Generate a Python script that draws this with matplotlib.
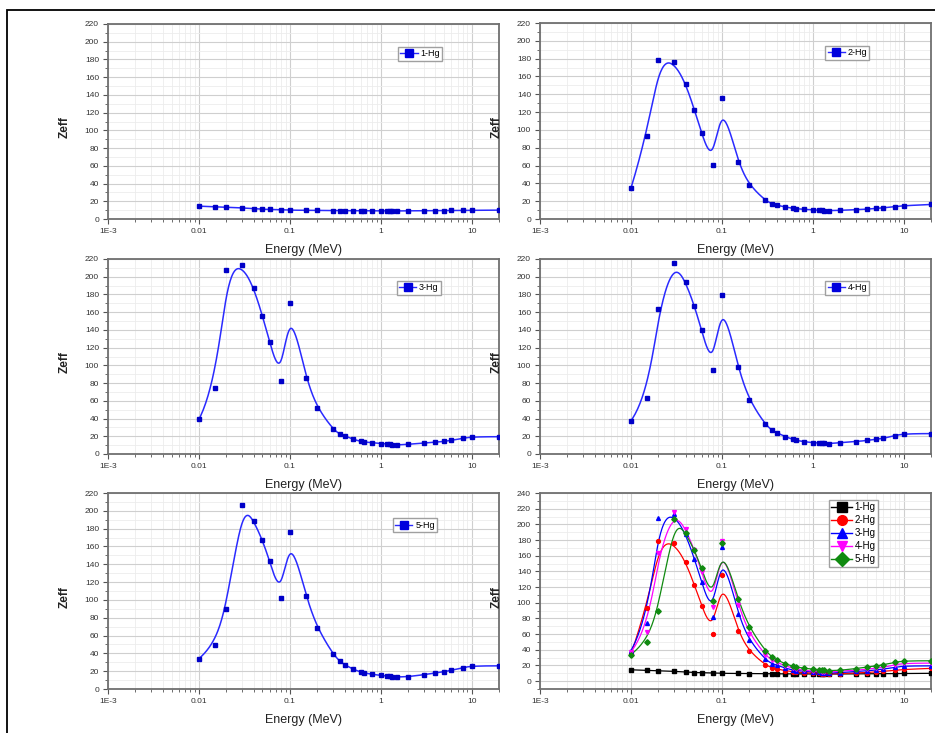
import numpy as np
import matplotlib.pyplot as plt
from matplotlib.lines import Line2D
from matplotlib.patches import Rectangle
from matplotlib.ticker import FixedLocator, FixedFormatter, MultipleLocator, LogLocator, NullFormatter

plt.rcParams['font.family'] = ['Liberation Sans', 'DejaVu Sans']

# photon energies (MeV)
energy = [0.01, 0.015, 0.02, 0.03, 0.04, 0.05, 0.06, 0.08, 0.1, 0.15, 0.2, 0.3, 0.356, 0.4,
          0.5, 0.6, 0.662, 0.8, 1, 1.173, 1.25, 1.333, 1.5, 2, 3, 4, 5, 6, 8, 10, 20]

# Zeff of each sample
zeff_1 = [14.5, 13.8, 13.5, 12.5, 11.5, 11.0, 10.8, 10.2, 10.0, 9.8, 9.7, 9.5, 9.4, 9.4,
          9.3, 9.3, 9.3, 9.2, 9.2, 9.1, 9.1, 9.1, 9.1, 9.2, 9.3, 9.4, 9.5, 9.6, 9.7, 9.8, 10.0]
zeff_2 = [34.5, 93, 179, 176, 152, 122.5, 96, 60.5, 135.5, 63.5, 38, 21, 17, 15.5,
          13.5, 12, 11.5, 10.9, 10.2, 9.8, 9.6, 9.5, 9.4, 9.7, 10.5, 11, 12, 12.5, 13.9, 15, 16.3]
zeff_3 = [39, 74, 208, 213, 187.7, 156, 126.4, 82.4, 170.7, 85.4, 52, 27.8, 22.2, 20.7,
          16.5, 14.3, 13.5, 12.8, 11.7, 11.3, 10.9, 10.5, 10.2, 10.9, 12.4, 13.2, 14.3, 15.4, 17.7, 19.5, 19.5]
zeff_4 = [37.3, 63, 164, 215.5, 194, 167, 139.4, 94.6, 179.3, 97.6, 60.7, 33.5, 26.7, 24.1,
          19.6, 16.6, 15.4, 13.9, 12.8, 12.4, 12.0, 12.0, 11.7, 12.8, 13.9, 15.4, 16.6, 17.7, 20.7, 23, 23]
zeff_5 = [34, 49.8, 89.4, 206.5, 189, 166.9, 143.7, 101.8, 176.2, 104.4, 68.5, 38.9, 31, 27.3,
          22.1, 19.1, 18.0, 16.5, 15.3, 14.6, 14.2, 13.8, 13.5, 13.8, 16.1, 18, 19.5, 21, 24, 26, 26]

labels = ['1-Hg', '2-Hg', '3-Hg', '4-Hg', '5-Hg']
series = [zeff_1, zeff_2, zeff_3, zeff_4, zeff_5]
colors = ['#000000', '#ff0000', '#0000ff', '#ff00ff', '#108a10']
markers = ['s', 'o', '^', 'v', 'D']

x_ticks = [1e-3, 1e-2, 1e-1, 1, 10]
x_ticklabels = ['1E-3', '0.01', '0.1', '1', '10']


def bspline(x, y, num=900):
    # clamped cubic B-spline through the data as control points (log-x space)
    P = np.column_stack([np.log10(x), y])
    n, k = len(P), 3
    knots = np.concatenate([[0] * k, np.arange(n - k + 1), [n - k] * k]).astype(float)
    out = []
    for t in np.linspace(0, n - k, num):
        i = min(int(t) + k, n - 1)
        d = [P[j + i - k].copy() for j in range(k + 1)]
        for r in range(1, k + 1):
            for j in range(k, r - 1, -1):
                a = (t - knots[j + i - k]) / (knots[j + 1 + i - r] - knots[j + i - k])
                d[j] = (1 - a) * d[j - 1] + a * d[j]
        out.append(d[k])
    out = np.array(out)
    return 10 ** out[:, 0], out[:, 1]


W, H = 935, 733
fig = plt.figure(figsize=(W / 100, H / 100), dpi=100)

# outer frame of the original figure
fig.add_artist(Rectangle((7 / W, -0.05), 1.1, 1 - 10 / H + 0.05, transform=fig.transFigure,
                         fill=False, edgecolor='black', linewidth=1.3))


def add_panel(left, top, right, bottom):
    return fig.add_axes([left / W, 1 - bottom / H, (right - left) / W, (bottom - top) / H])


def style(ax, ymin, ymax):
    ax.set_xscale('log')
    ax.set_xlim(1e-3, 20)
    ax.set_ylim(ymin, ymax)
    ax.xaxis.set_major_locator(FixedLocator(x_ticks))
    ax.xaxis.set_major_formatter(FixedFormatter(x_ticklabels))
    ax.xaxis.set_minor_locator(LogLocator(base=10, subs=np.arange(2, 10), numticks=20))
    ax.xaxis.set_minor_formatter(NullFormatter())
    ax.yaxis.set_major_locator(MultipleLocator(20))
    ax.yaxis.set_minor_locator(MultipleLocator(10))
    ax.grid(True, which='major', color='#cfcfcf', linewidth=0.8)
    ax.grid(True, which='minor', color='#ececec', linewidth=0.6)
    ax.set_axisbelow(True)
    ax.tick_params(which='major', direction='out', length=3.5, width=0.8,
                   labelsize=6, labelcolor='#333333', color='#555555', pad=3)
    ax.tick_params(which='minor', direction='out', length=2, width=0.6, color='#555555')
    for s in ax.spines.values():
        s.set_color('#707070')
        s.set_linewidth(1.3)
    ax.set_xlabel('Energy (MeV)', fontsize=9, color='#222222')
    ax.xaxis.set_label_coords(0.5, -0.13)
    ax.set_ylabel('Zeff', fontsize=8.5, fontweight='bold', color='#222222')
    ax.yaxis.set_label_coords(-0.095, 0.47)


boxes = [(108, 24, 499, 219), (540, 23, 931, 219),
         (108, 259, 499, 454), (540, 259, 931, 454),
         (108, 493, 499, 689)]
legend_anchor = [(0.742, 0.882), (0.73, 0.882), (0.739, 0.887), (0.73, 0.887), (0.729, 0.87)]

for idx, (box, z, lab) in enumerate(zip(boxes, series, labels)):
    ax = add_panel(*box)
    style(ax, 0, 220)
    xs, ys = bspline(energy, z)
    ax.plot(xs, ys, color='#2a2aff', linewidth=1.1, zorder=3)
    ax.plot(energy, z, 's', color='#0000c8', markersize=3.4, zorder=4)
    h = Line2D([], [], color='#2a2aff', marker='s', markerfacecolor='#0000dd',
               markeredgecolor='#0000dd', markersize=5.5, linewidth=1.0)
    ax.legend(handles=[h], labels=[lab], loc='upper left', bbox_to_anchor=legend_anchor[idx],
              borderaxespad=0, fontsize=6.5, fancybox=False, edgecolor='#a0a0a0',
              framealpha=1, borderpad=0.25, handlelength=1.9, handletextpad=0.3)

# combined panel
ax = add_panel(540, 493, 931, 689)
style(ax, -10, 240)
handles = []
for z, lab, c, m in zip(series, labels, colors, markers):
    xs, ys = bspline(energy, z)
    ax.plot(xs, ys, color=c, linewidth=0.9, zorder=3)
    ax.plot(energy, z, m, color=c, markersize=2.8, zorder=4)
    handles.append(Line2D([], [], color=c, marker=m, markersize=7, linewidth=1.0))
ax.legend(handles=handles, labels=labels, loc='upper left', bbox_to_anchor=(0.739, 0.964),
          borderaxespad=0, fontsize=7, fancybox=False, edgecolor='#a0a0a0', framealpha=1,
          borderpad=0.25, handlelength=2.1, handletextpad=0.3, labelspacing=0.3)

fig.savefig('out.png', dpi=100)
